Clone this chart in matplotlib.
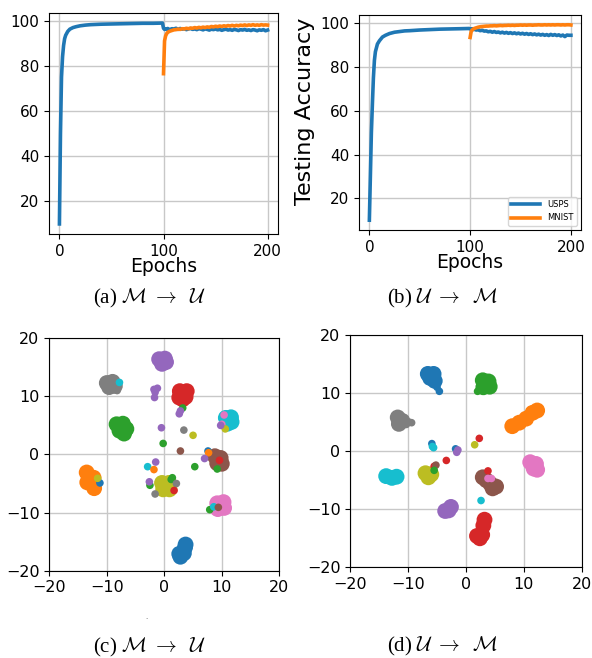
import matplotlib
matplotlib.use("Agg")
import matplotlib.pyplot as plt

plt.rcParams['mathtext.fontset'] = 'cm'

# ---- accuracy curves ----
ep_pre = [0, 1, 2, 3, 4, 5, 6, 8, 10, 13, 16, 20, 25, 30, 35, 40, 50, 60, 70, 80, 90, 99]
ep_post = [100, 101, 102, 103, 104, 106, 108, 110, 112, 114, 116, 118, 120, 122, 124, 126, 128,
           130, 132, 134, 136, 138, 140, 142, 144, 146, 148, 150, 152, 154, 156, 158, 160,
           162, 164, 166, 168, 170, 172, 174, 176, 178, 180, 182, 184, 186, 188, 190, 192,
           194, 196, 198, 200]

a_src_pre = [10, 50, 75, 84, 89, 92, 93.5, 95.2, 96.2, 96.9, 97.3, 97.7, 98.0, 98.2, 98.3, 98.4,
             98.5, 98.6, 98.7, 98.8, 98.8, 98.9]
a_src_post = [96.6, 96.1, 96.3, 96.2, 96.5, 96.0, 96.4, 96.3, 96.6, 96.1, 96.5, 96.2, 96.4, 96.0,
              96.3, 96.5, 96.1, 96.3, 96.0, 96.4, 96.2, 95.9, 96.3, 96.1, 95.8, 96.2, 96.0, 96.3,
              95.9, 96.1, 95.7, 96.0, 96.2, 95.8, 96.0, 95.7, 96.1, 95.9, 95.6, 96.0, 95.8, 96.1,
              95.7, 95.9, 95.6, 96.0, 95.8, 95.5, 95.9, 95.7, 96.0, 95.5, 95.8]
a_tgt_post = [76.5, 91.0, 93.2, 94.2, 94.8, 95.3, 95.6, 95.9, 96.0, 96.2, 96.1, 96.4, 96.3, 96.6,
              96.4, 96.7, 96.6, 96.9, 96.7, 97.0, 96.8, 97.1, 96.9, 97.2, 97.0, 97.4, 97.2, 97.5,
              97.3, 97.6, 97.4, 97.7, 97.5, 97.8, 97.6, 97.9, 97.6, 97.9, 97.7, 98.0, 97.8, 98.1,
              97.8, 98.1, 97.9, 98.2, 97.9, 98.1, 97.9, 98.2, 98.0, 98.1, 98.0]

b_src_pre = [10, 30, 50, 63, 75, 83, 87, 90.5, 92, 93.7, 94.5, 95.3, 95.9, 96.2, 96.5, 96.6,
             96.9, 97.1, 97.3, 97.4, 97.5, 97.6]
b_src_post = [97.4, 97.2, 97.5, 97.1, 97.3, 96.9, 97.0, 96.6, 96.8, 96.4, 96.5, 96.1, 96.3, 95.9,
              96.2, 95.8, 96.0, 95.6, 95.9, 95.5, 95.8, 95.4, 95.7, 95.3, 95.6, 95.2, 95.5, 95.1,
              95.4, 95.0, 95.3, 94.9, 95.2, 94.8, 95.1, 94.7, 95.0, 94.6, 94.9, 94.5, 94.8, 94.4,
              94.9, 94.5, 94.8, 94.4, 94.7, 94.2, 94.6, 93.9, 94.6, 94.5, 94.5]
b_tgt_post = [93.5, 96.2, 96.9, 97.3, 97.6, 97.9, 98.2, 98.4, 98.5, 98.6, 98.7, 98.7, 98.8, 98.8,
              98.9, 98.8, 98.9, 99.0, 98.9, 99.0, 99.0, 99.1, 99.0, 99.1, 99.0, 99.1, 99.1, 99.2,
              99.1, 99.2, 99.1, 99.2, 99.2, 99.1, 99.2, 99.2, 99.3, 99.2, 99.2, 99.3, 99.2, 99.3,
              99.2, 99.3, 99.2, 99.3, 99.3, 99.2, 99.3, 99.2, 99.3, 99.3, 99.2]

legend_names = ['USPS', 'MNIST']

# ---- t-SNE embeddings (class index 0-9) ----
c_blob_x = [-0.9, 0.1, -0.4, 0.3,
            -10.0, -9.0, -8.6, -9.6,
            2.7, 3.9, 2.6, 3.7, 3.2,
            10.7, 11.6, 11.0, 11.7,
            -8.3, -7.2, -6.6, -7.8, -7.0,
            8.8, 9.8, 9.2, 10.0,
            -13.5, -13.0, -12.4, -12.2, -13.4, -12.3,
            -0.4, 0.8, -0.2, 0.9, 0.3,
            9.2, 10.3, 9.3, 10.4,
            2.6, 3.4, 3.6, 3.7, 2.8]
c_blob_y = [16.4, 16.5, 15.6, 15.9,
            12.3, 12.5, 11.8, 11.6,
            10.9, 10.9, 9.8, 9.9, 9.5,
            6.3, 6.4, 5.3, 5.6,
            5.2, 5.3, 4.4, 4.1, 3.6,
            -0.3, -0.6, -1.5, -1.6,
            -3.1, -4.2, -5.2, -5.8, -4.8, -4.0,
            -4.9, -4.9, -6.0, -6.0, -5.3,
            -8.4, -8.2, -9.4, -9.2,
            -17.1, -17.0, -16.0, -15.5, -17.6]
c_blob_cls = [4, 4, 4, 4,
              7, 7, 7, 7,
              3, 3, 3, 3, 3,
              9, 9, 9, 9,
              2, 2, 2, 2, 2,
              5, 5, 5, 5,
              1, 1, 1, 1, 1, 1,
              8, 8, 8, 8, 8,
              6, 6, 6, 6,
              0, 0, 0, 0, 0]
c_dot_x = [-8.2, -7.8, -1.8, -1.2, -1.6, -1.7, 3.2, 2.6, 2.8, 10.4, 10.0, 10.6, 9.8,
           -0.5, 3.4, 5.0, -0.2, 2.8, 5.3, 9.6, 7.6, 7.7, 7.0, 9.2,
           -1.5, -2.9, -1.8, -11.2, -11.6, 1.4, 1.2, 2.1, 1.7, -2.5, -2.6, -1.6,
           7.9, 8.6, 9.4]
c_dot_y = [11.0, 12.4, 11.2, 11.4, 10.7, 9.8, 8.0, 7.0, 7.5, 6.8, 5.2, 4.4, 5.0,
           4.6, 4.2, 3.3, 1.9, 0.6, -2.1, -1.0, 0.6, 0.3, -0.7, -2.5,
           -1.3, -2.1, -2.6, -4.9, -4.1, -4.0, -4.3, -5.0, -6.2, -5.3, -4.7, -6.8,
           -9.5, -9.0, -9.1]
c_dot_cls = [7, 9, 4, 4, 4, 4, 2, 4, 4, 6, 6, 8, 4,
             4, 7, 8, 2, 5, 2, 3, 0, 1, 4, 2,
             4, 9, 1, 0, 8, 2, 2, 7, 3, 2, 4, 7,
             2, 9, 5]

d_blob_x = [-6.6, -5.6, -6.2, -5.4,
            2.9, 3.9, 3.0, 4.1,
            -11.8, -11.6, -11.0,
            8.0, 9.2, 10.4, 11.5, 12.3,
            -7.0, -6.0, -6.5,
            -13.8, -12.8, -12.0,
            2.9, 4.2, 5.2, 4.6, 3.5,
            11.1, 12.1, 12.3, 11.7,
            -3.6, -2.6, -3.0,
            3.2, 3.0, 1.9, 2.8, 2.4]
d_blob_y = [13.3, 13.3, 12.6, 12.1,
            12.2, 12.0, 11.0, 11.1,
            5.8, 4.7, 5.2,
            4.3, 4.9, 5.6, 6.6, 7.0,
            -3.8, -4.0, -4.5,
            -4.3, -4.6, -4.4,
            -4.5, -5.6, -6.1, -6.4, -5.0,
            -1.9, -2.2, -3.2, -3.0,
            -10.3, -9.6, -10.2,
            -11.8, -12.8, -14.6, -14.4, -15.0]
d_blob_cls = [0, 0, 0, 0,
              2, 2, 2, 2,
              7, 7, 7,
              1, 1, 1, 1, 1,
              8, 8, 8,
              9, 9, 9,
              5, 5, 5, 5, 5,
              6, 6, 6, 6,
              4, 4, 4,
              3, 3, 3, 3, 3]
d_dot_x = [-4.6, -5.0, 2.0, -9.8, -9.4, -10.3, 2.3, 1.5, -5.9, -5.8, -5.6, -1.8, -1.4, -1.6,
           -3.4, -5.5, -5.2, -5.5, 3.8, 3.8, 4.4, 2.6, 11.2]
d_dot_y = [10.3, 11.0, 10.3, 5.0, 4.9, 4.6, 2.2, 1.1, 1.3, 0.8, 0.6, 0.4, 0.2, -0.2,
           -1.6, -2.6, -2.4, -3.3, -3.4, -4.7, -4.7, -8.5, -1.6]
d_dot_cls = [0, 0, 2, 7, 7, 7, 3, 8, 0, 9, 9, 0, 4, 4,
             3, 3, 5, 2, 3, 6, 6, 9, 6]

captions = [r'(a) $\mathcal{M}\;\rightarrow\;\;\mathcal{U}$', r'(b) $\mathcal{U}\;\rightarrow\;\;\mathcal{M}$',
            r'(c) $\mathcal{M}\;\rightarrow\;\;\mathcal{U}$', r'(d) $\mathcal{U}\;\rightarrow\;\;\mathcal{M}$']

palette = plt.get_cmap('tab10').colors

fig = plt.figure(figsize=(5.92, 6.58), dpi=100)
ax_a = fig.add_axes([0.0828, 0.6444, 0.3868, 0.3358])
ax_b = fig.add_axes([0.6069, 0.6505, 0.3745, 0.3267])
ax_c = fig.add_axes([0.0833, 0.1327, 0.3885, 0.3532])
ax_d = fig.add_axes([0.5917, 0.1378, 0.3909, 0.3531])

for ax, src_pre, src_post, tgt_post in [(ax_a, a_src_pre, a_src_post, a_tgt_post),
                                        (ax_b, b_src_pre, b_src_post, b_tgt_post)]:
    ax.plot(ep_pre + ep_post, src_pre + src_post, color='C0', lw=2.6, label=legend_names[0])
    ax.plot(ep_post, tgt_post, color='C1', lw=2.6, label=legend_names[1])
    ax.set_xticks([0, 100, 200])
    ax.set_yticks([20, 40, 60, 80, 100])
    ax.grid(True, color='#c8c8c8', lw=1)
    ax.tick_params(labelsize=11)
    ax.set_xlabel('Epochs', fontsize=13.5, labelpad=-1)

ax_b.set_ylabel('Testing Accuracy', fontsize=16)
ax_b.yaxis.set_label_coords(-0.2, 0.55)
ax_b.legend(loc='lower right', fontsize=6, handlelength=3.5)

for ax, bx, by, bc, dx, dy, dc in [(ax_c, c_blob_x, c_blob_y, c_blob_cls, c_dot_x, c_dot_y, c_dot_cls),
                                   (ax_d, d_blob_x, d_blob_y, d_blob_cls, d_dot_x, d_dot_y, d_dot_cls)]:
    ax.scatter(bx, by, s=130, c=[palette[k] for k in bc], linewidths=0, zorder=2)
    ax.scatter(dx, dy, s=30, c=[palette[k] for k in dc], linewidths=0, zorder=3)
    ax.set_xlim(-20, 20)
    ax.set_ylim(-20, 20)
    ax.set_xticks([-20, -10, 0, 10, 20])
    ax.set_yticks([-20, -10, 0, 10, 20])
    ax.grid(True, color='#c8c8c8', lw=1)
    ax.set_axisbelow(True)
    ax.tick_params(labelsize=11.5)

cap_pos = [(0.252, 0.547), (0.748, 0.547), (0.252, 0.016), (0.748, 0.017)]
for (x, y), txt in zip(cap_pos, captions):
    fig.text(x, y, txt, ha='center', va='center', fontsize=15, family='Liberation Serif')

fig.text(0.248, 0.062, '.', ha='center', va='center', fontsize=5, color='#555555')

fig.savefig('out.png', dpi=100)
